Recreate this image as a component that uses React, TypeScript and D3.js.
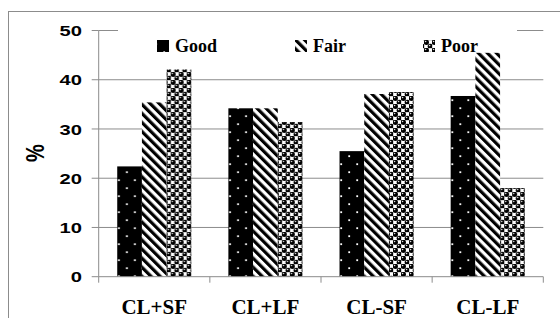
import { scaleBand, scaleLinear } from "d3";

const categories = ["CL+SF", "CL+LF", "CL-SF", "CL-LF"];
const seriesNames = ["Good", "Fair", "Poor"];
const goodValues = [22.4, 34.2, 25.5, 36.7];
const fairValues = [35.4, 34.2, 37.1, 45.5];
const poorValues = [42.1, 31.4, 37.5, 18.0];
const yTicks = [0, 10, 20, 30, 40, 50];

const W = 560;
const H = 318;
const plotLeft = 98.7;
const plotRight = 543.3;
const plotTop = 30.5;
const plotBottom = 276.7;
const gridColor = "#8c8c8c";
const patternIds = ["pGood", "pFair", "pPoor"];
const legendX = [157, 295, 423];
const sans = "'Liberation Sans', Arial, sans-serif";
const serif = "'Liberation Serif', 'Times New Roman', serif";

const App = () => {
  const x = scaleBand<string>().domain(categories).range([plotLeft, plotRight]).padding(0);
  const xs = scaleBand<string>()
    .domain(seriesNames)
    .range([0, x.bandwidth()])
    .paddingInner(0)
    .paddingOuter(0.75);
  const y = scaleLinear().domain([0, 50]).range([plotBottom, plotTop]);

  const series = [goodValues, fairValues, poorValues];

  return (
    <svg
      width={W}
      height={H}
      style={{ position: "absolute", left: 0, top: 0, background: "#fff" }}
    >
      <defs>
        <pattern id="pGood" width="16" height="16" patternUnits="userSpaceOnUse">
          <rect width="16" height="16" fill="#000" />
          <rect x="3.3" y="3.3" width="1.8" height="1.8" fill="#fff" />
          <rect x="11.3" y="11.3" width="1.8" height="1.8" fill="#fff" />
        </pattern>
        <pattern
          id="pFair"
          width="6.4"
          height="6.4"
          patternUnits="userSpaceOnUse"
          patternTransform="rotate(-45)"
        >
          <rect width="6.4" height="6.4" fill="#fff" />
          <rect width="3.2" height="6.4" fill="#000" />
        </pattern>
        <pattern id="pPoor" width="8" height="8" patternUnits="userSpaceOnUse">
          <rect width="8" height="8" fill="#fff" />
          <path d="M0,0.3H8M0,4.3H8M0.3,0V8M4.3,0V8" stroke="#aaa" strokeWidth="0.6" />
          <circle cx="2.3" cy="2.3" r="2.6" fill="#000" />
          <circle cx="6.3" cy="6.3" r="2.6" fill="#000" />
          <circle cx="1.6" cy="1.5" r="0.8" fill="#e0e0e0" />
          <circle cx="5.6" cy="5.5" r="0.8" fill="#e0e0e0" />
        </pattern>
      </defs>

      {/* outer chart border */}
      <rect x={8.5} y={11.5} width={600} height={400} fill="none" stroke={gridColor} />

      {/* gridlines */}
      {yTicks.slice(1).map((t) => (
        <line
          key={t}
          x1={plotLeft}
          x2={plotRight}
          y1={y(t)}
          y2={y(t)}
          stroke={gridColor}
          strokeWidth={1}
        />
      ))}

      {/* bars */}
      {categories.map((c, ci) => (
        <g key={c} transform={`translate(${x(c)},0)`}>
          {seriesNames.map((s, si) => (
            <rect
              key={s}
              x={xs(s)}
              y={y(series[si][ci])}
              width={xs.bandwidth()}
              height={y(0) - y(series[si][ci])}
              fill={`url(#${patternIds[si]})`}
            />
          ))}
        </g>
      ))}

      {/* y axis */}
      <line x1={plotLeft} x2={plotLeft} y1={plotTop} y2={plotBottom} stroke={gridColor} />
      {yTicks.map((t) => (
        <g key={t}>
          <line x1={plotLeft - 7} x2={plotLeft} y1={y(t)} y2={y(t)} stroke={gridColor} />
          <text
            transform={`translate(82,${y(t)}) scale(1.3,1)`}
            textAnchor="end"
            dy="0.36em"
            style={{ fontFamily: sans, fontWeight: 700, fontSize: 15.5 }}
            fill="#000"
          >
            {t}
          </text>
        </g>
      ))}
      <text
        transform={`translate(44,153) rotate(-90) scale(1,1.3)`}
        textAnchor="middle"
        style={{ fontFamily: sans, fontWeight: 700, fontSize: 20 }}
        fill="#000"
      >
        %
      </text>

      {/* x axis */}
      <line x1={plotLeft} x2={plotRight} y1={plotBottom} y2={plotBottom} stroke={gridColor} />
      {categories.map((c) => (
        <line
          key={c}
          x1={x(c)}
          x2={x(c)}
          y1={plotBottom}
          y2={plotBottom + 6}
          stroke={gridColor}
        />
      ))}
      <line
        x1={plotRight}
        x2={plotRight}
        y1={plotBottom}
        y2={plotBottom + 6}
        stroke={gridColor}
      />
      {categories.map((c) => (
        <text
          key={c}
          x={(x(c) as number) + x.bandwidth() / 2}
          y={314}
          textAnchor="middle"
          style={{ fontFamily: serif, fontWeight: 700, fontSize: 21 }}
          fill="#000"
        >
          {c}
        </text>
      ))}

      {/* legend */}
      <rect x={118} y={27} width={399} height={25.5} fill="#fff" />
      {seriesNames.map((s, si) => (
        <g key={s}>
          <rect
            x={legendX[si]}
            y={40}
            width={12}
            height={12}
            fill={`url(#${patternIds[si]})`}
          />
          <text
            x={legendX[si] + 18}
            y={52}
            style={{ fontFamily: serif, fontWeight: 700, fontSize: 18 }}
            fill="#000"
          >
            {s}
          </text>
        </g>
      ))}
    </svg>
  );
};

export default App;
